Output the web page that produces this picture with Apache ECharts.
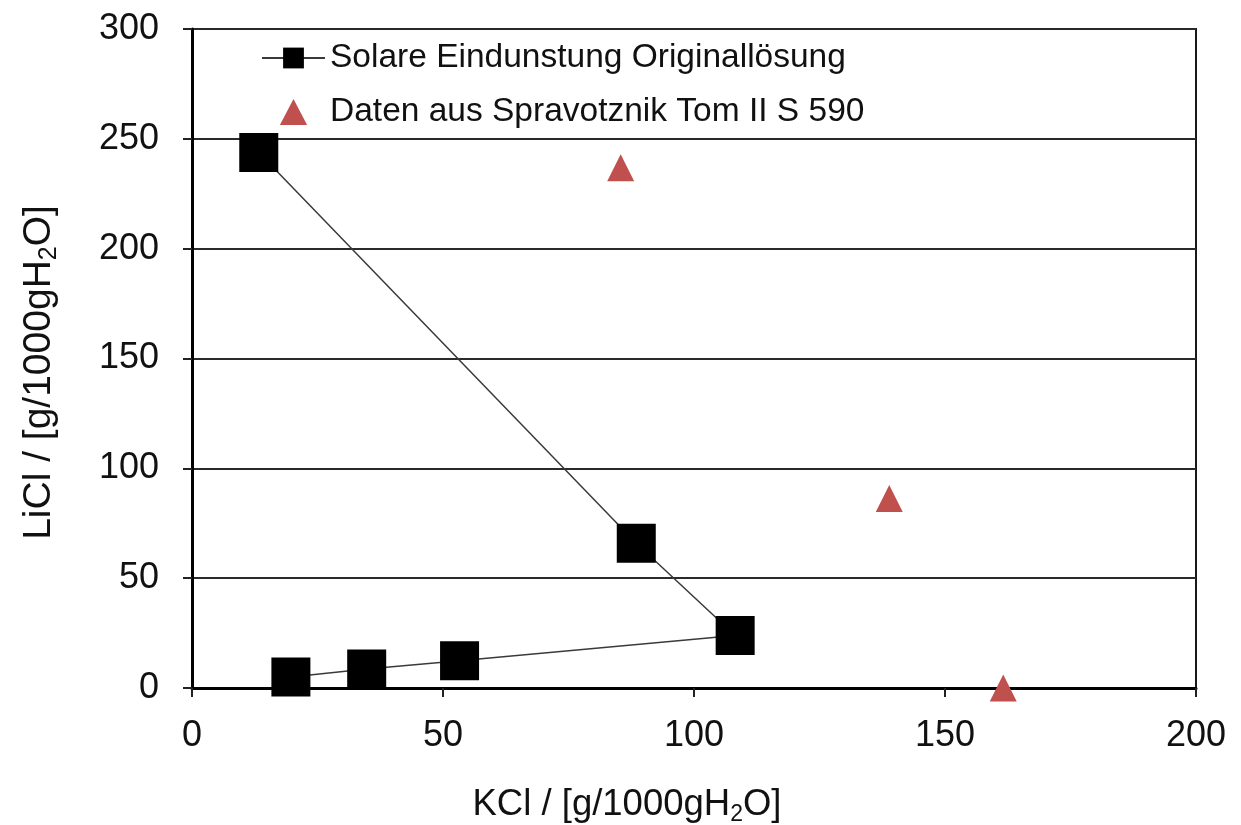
<!DOCTYPE html>
<html>
<head>
<meta charset="utf-8">
<script src="https://cdn.jsdelivr.net/npm/echarts@6/dist/echarts.min.js"></script>
<style>
  html, body { margin: 0; padding: 0; background: #fff; }
  #chart { width: 1241px; height: 825px; }
</style>
</head>
<body>
<div id="chart"></div>
<script>
// Solar evaporation path of the original brine (KCl vs LiCl, g per 1000 g H2O)
const evapKCl  = [19.7, 34.8, 53.3, 108.2, 88.5, 13.3];
const evapLiCl = [5.0, 8.7, 12.4, 23.9, 65.9, 243.8];

// Reference solubility data (Spravotznik Tom II, p. 590)
const refKCl  = [85.4, 138.9, 161.6];
const refLiCl = [236.8, 86.3, 0];

const seriesNames = ['Solare Eindunstung Originallösung', 'Daten aus Spravotznik Tom II S 590'];
const xTicks = [0, 50, 100, 150, 200];
const yTicks = [0, 50, 100, 150, 200, 250, 300];

const font = '"Liberation Sans", Arial, sans-serif';
const ink = '#111';
const red = '#C0504D';

const pairs = (xs, ys) => xs.map((x, i) => [x, ys[i]]);

function nameRich(size) {
  return {
    base: { fontFamily: font, fontSize: size, color: ink, lineHeight: Math.round(size * 1.18) },
    sub:  { fontFamily: font, fontSize: Math.round(size * 0.64), color: ink,
            lineHeight: Math.round(size * 0.64), verticalAlign: 'bottom' }
  };
}

const chart = echarts.init(document.getElementById('chart'), null, { renderer: 'canvas' });

chart.setOption({
  backgroundColor: '#fff',
  animation: false,
  grid: {
    left: 192, right: 45, top: 29, bottom: 137,
    outerBoundsMode: 'none',
    containLabel: false,
    show: true, borderColor: '#1a1a1a', borderWidth: 2, backgroundColor: 'transparent'
  },
  legend: {
    orient: 'vertical',
    left: 256, top: 36,
    itemWidth: 63, itemHeight: 26, itemGap: 20,
    symbolKeepAspect: true,
    data: [
      { name: seriesNames[0] },
      // triangle that keeps its proportions in the legend box
      { name: seriesNames[1], icon: 'path://M11,0 L22,21 L0,21 Z', itemStyle: { color: red } }
    ],
    textStyle: { fontFamily: font, fontSize: 33.5, color: ink }
  },
  xAxis: {
    type: 'value',
    min: xTicks[0], max: xTicks[xTicks.length - 1], interval: 50,
    name: '{base|KCl / [g/1000gH}{sub|2}{base|O]}',
    nameLocation: 'middle', nameGap: 95,
    nameTextStyle: { rich: nameRich(36.5), padding: [0, 134, 0, 0] },
    axisLine: { show: true, onZero: false, lineStyle: { color: '#000', width: 3 } },
    axisTick: { show: true, inside: false, length: 9, lineStyle: { color: '#222', width: 2 } },
    axisLabel: { margin: 30, fontFamily: font, fontSize: 36, color: ink },
    splitLine: { show: false }
  },
  yAxis: {
    type: 'value',
    min: yTicks[0], max: yTicks[yTicks.length - 1], interval: 50,
    name: '{base|LiCl / [g/1000gH}{sub|2}{base|O]}',
    nameLocation: 'middle', nameGap: 130, nameRotate: 90,
    nameTextStyle: { rich: nameRich(39), padding: [0, 28, 0, 0] },
    axisLine: { show: true, onZero: false, lineStyle: { color: '#000', width: 3 } },
    axisTick: { show: true, inside: false, length: 9, lineStyle: { color: '#222', width: 2 } },
    axisLabel: { margin: 33, fontFamily: font, fontSize: 36, color: ink },
    splitLine: { show: true, lineStyle: { color: '#2a2a2a', width: 2 } }
  },
  series: [
    {
      name: seriesNames[0],
      type: 'line',
      data: pairs(evapKCl, evapLiCl),
      symbol: 'rect',
      symbolSize: 39,
      showAllSymbol: true,
      lineStyle: { color: '#3a3a3a', width: 1.5 },
      itemStyle: { color: '#000', opacity: 1 },
      z: 3
    },
    {
      name: seriesNames[1],
      type: 'scatter',
      data: pairs(refKCl, refLiCl),
      symbol: 'triangle',
      symbolSize: 27,
      itemStyle: { color: red, opacity: 1 },
      z: 4
    }
  ]
});
</script>
</body>
</html>
